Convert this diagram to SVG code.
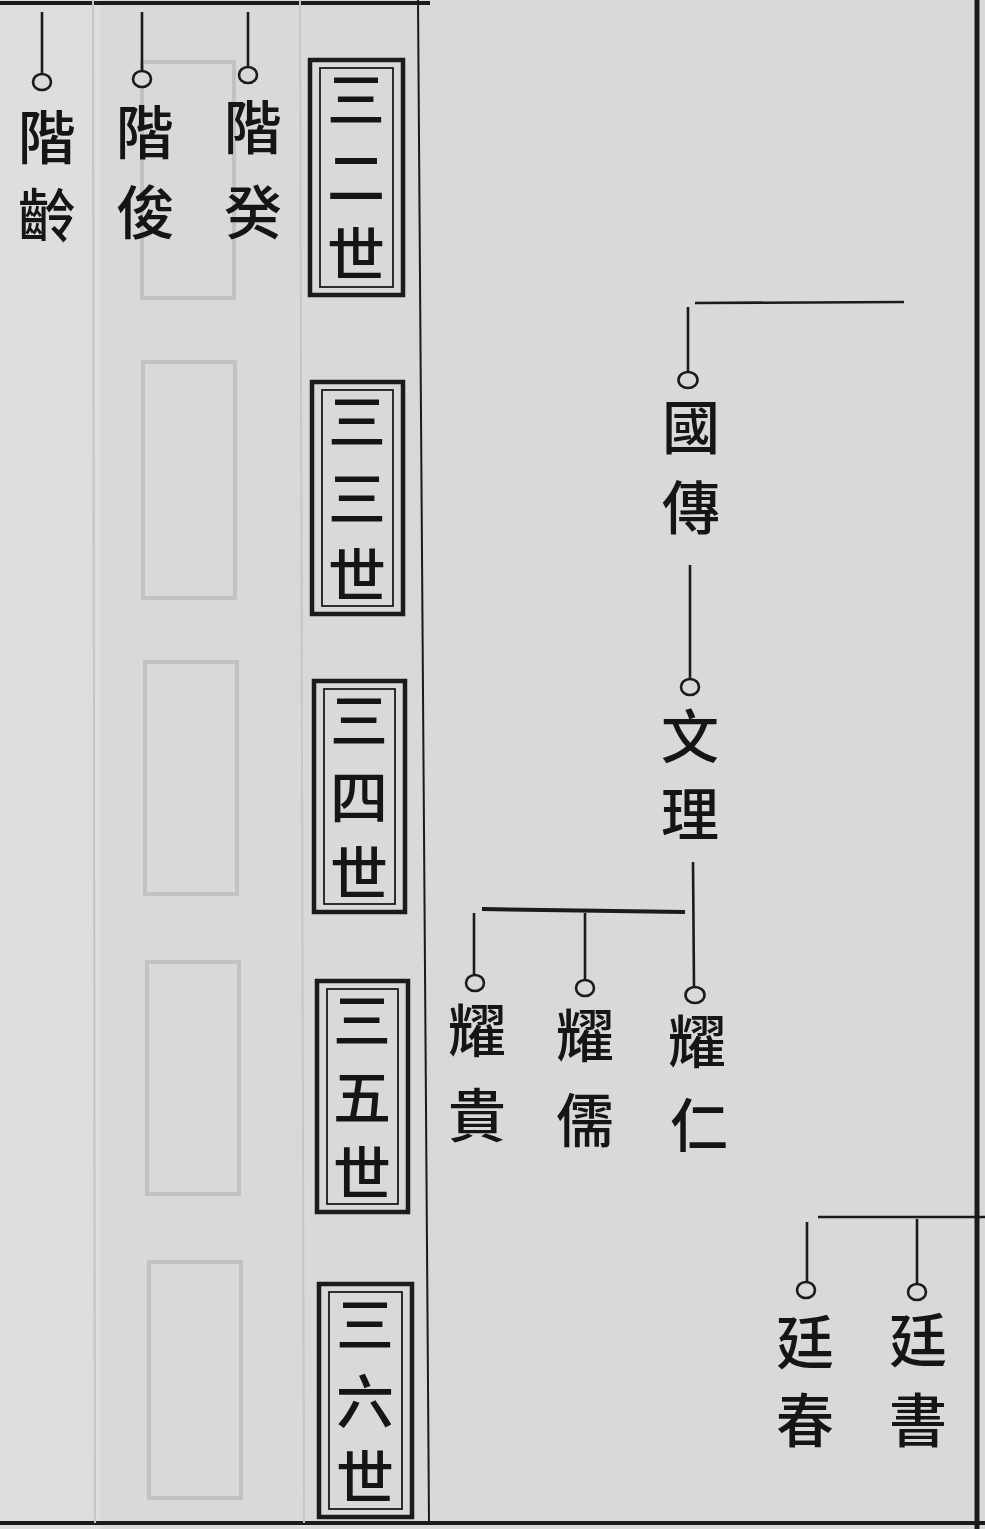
<svg xmlns="http://www.w3.org/2000/svg" width="985" height="1529" viewBox="0 0 985 1529">
<defs>
<style>
.ln{stroke:#1b1b1b;stroke-width:2.6;fill:none;stroke-linecap:butt}
.ring{stroke:#1b1b1b;stroke-width:2.6;fill:#d9d9d9}
.nm{font-family:"Noto Sans CJK TC","Noto Sans CJK SC",serif;font-size:58px;font-weight:500;fill:#151515;text-anchor:middle}
.gen{font-family:"Noto Sans CJK TC","Noto Sans CJK SC",serif;font-size:58px;font-weight:500;fill:#151515;text-anchor:middle}
.outer{stroke:#1b1b1b;stroke-width:4.5;fill:none}
.inner{stroke:#1b1b1b;stroke-width:1.8;fill:none}
.ghost{stroke:#c2c2c2;stroke-width:4;fill:none}
.ghostl{stroke:#c6c6c6;stroke-width:2;fill:none}
</style>
</defs>
<rect x="0" y="0" width="985" height="1529" fill="#d9d9d9"/>
<rect x="0" y="0" width="100" height="1529" fill="#dedede"/>

<g id="frame">
<line x1="0" y1="3" x2="430" y2="3" stroke="#1b1b1b" stroke-width="4"/>
<line x1="977" y1="0" x2="977" y2="1529" stroke="#1b1b1b" stroke-width="5"/>
<line x1="0" y1="1523" x2="985" y2="1523" stroke="#1b1b1b" stroke-width="4"/>
<line x1="418" y1="0" x2="429" y2="1523" stroke="#1b1b1b" stroke-width="2"/>
<line x1="93" y1="0" x2="95" y2="1523" class="ghostl"/>
<line x1="300" y1="0" x2="304" y2="1523" class="ghostl"/>
</g>

<g id="show-through">
<rect x="142" y="62" width="92" height="236" class="ghost"/>
<rect x="143" y="362" width="92" height="236" class="ghost"/>
<rect x="145" y="662" width="92" height="232" class="ghost"/>
<rect x="147" y="962" width="92" height="232" class="ghost"/>
<rect x="149" y="1262" width="92" height="236" class="ghost"/>
</g>

<g id="gen32">
<rect x="310" y="60" width="93" height="235" class="outer"/>
<rect x="320" y="68" width="73" height="219" class="inner"/>
<text class="gen"><tspan x="356" y="121">三</tspan><tspan x="356" y="199">二</tspan><tspan x="356" y="276">世</tspan></text>
</g>
<g id="gen33">
<rect x="312" y="382" width="91" height="232" class="outer"/>
<rect x="322" y="390" width="71" height="216" class="inner"/>
<text class="gen"><tspan x="357" y="443">三</tspan><tspan x="357" y="520">三</tspan><tspan x="357" y="597">世</tspan></text>
</g>
<g id="gen34">
<rect x="314" y="681" width="91" height="231" class="outer"/>
<rect x="324" y="689" width="71" height="215" class="inner"/>
<text class="gen"><tspan x="359" y="742">三</tspan><tspan x="359" y="819">四</tspan><tspan x="359" y="895">世</tspan></text>
</g>
<g id="gen35">
<rect x="317" y="981" width="91" height="231" class="outer"/>
<rect x="327" y="989" width="71" height="215" class="inner"/>
<text class="gen"><tspan x="362" y="1042">三</tspan><tspan x="362" y="1119">五</tspan><tspan x="362" y="1195">世</tspan></text>
</g>
<g id="gen36">
<rect x="319" y="1284" width="93" height="233" class="outer"/>
<rect x="329" y="1292" width="73" height="217" class="inner"/>
<text class="gen"><tspan x="365" y="1346">三</tspan><tspan x="365" y="1423">六</tspan><tspan x="365" y="1499">世</tspan></text>
</g>

<g id="connectors">
<line x1="42" y1="12" x2="42" y2="74" class="ln"/>
<line x1="142" y1="12" x2="142" y2="71" class="ln"/>
<line x1="248" y1="12" x2="248" y2="67" class="ln"/>
<line x1="695" y1="303" x2="904" y2="302" class="ln" stroke-width="2"/>
<line x1="688" y1="307" x2="688" y2="372" class="ln"/>
<line x1="690" y1="565" x2="690" y2="679" class="ln"/>
<line x1="693" y1="862" x2="694" y2="987" class="ln"/>
<path d="M482,909 L685,912" stroke="#1b1b1b" stroke-width="4" fill="none"/>
<line x1="474" y1="913" x2="474" y2="975" class="ln"/>
<line x1="585" y1="913" x2="585" y2="980" class="ln"/>
<line x1="818" y1="1217" x2="985" y2="1217" class="ln"/>
<line x1="807" y1="1222" x2="807" y2="1282" class="ln"/>
<line x1="917" y1="1219" x2="917" y2="1284" class="ln"/>
</g>

<g id="n-jieling">
<ellipse cx="42" cy="82" rx="9" ry="8" class="ring"/>
<text class="nm"><tspan x="47" y="159">階</tspan><tspan x="47" y="237">齡</tspan></text>
</g>
<g id="n-jiejun">
<ellipse cx="142" cy="79" rx="9" ry="8" class="ring"/>
<text class="nm"><tspan x="145" y="154">階</tspan><tspan x="145" y="234">俊</tspan></text>
</g>
<g id="n-jiegui">
<ellipse cx="248" cy="75" rx="9" ry="8" class="ring"/>
<text class="nm"><tspan x="253" y="149">階</tspan><tspan x="253" y="234">癸</tspan></text>
</g>
<g id="n-guochuan">
<ellipse cx="688" cy="380" rx="9.5" ry="8" class="ring"/>
<text class="nm"><tspan x="691" y="449">國</tspan><tspan x="691" y="529">傳</tspan></text>
</g>
<g id="n-wenli">
<ellipse cx="690" cy="687" rx="9" ry="8" class="ring"/>
<text class="nm"><tspan x="690" y="758">文</tspan><tspan x="690" y="836">理</tspan></text>
</g>
<g id="n-yaoren">
<ellipse cx="695" cy="995" rx="9.5" ry="8" class="ring"/>
<text class="nm"><tspan x="697" y="1063">耀</tspan><tspan x="699" y="1147">仁</tspan></text>
</g>
<g id="n-yaoru">
<ellipse cx="585" cy="988" rx="9" ry="8" class="ring"/>
<text class="nm"><tspan x="585" y="1057">耀</tspan><tspan x="585" y="1142">儒</tspan></text>
</g>
<g id="n-yaogui">
<ellipse cx="475" cy="983" rx="9" ry="8" class="ring"/>
<text class="nm"><tspan x="477" y="1052">耀</tspan><tspan x="477" y="1137">貴</tspan></text>
</g>
<g id="n-tingchun">
<ellipse cx="806" cy="1290" rx="9" ry="8" class="ring"/>
<text class="nm"><tspan x="805" y="1364">廷</tspan><tspan x="805" y="1442">春</tspan></text>
</g>
<g id="n-tingshu">
<ellipse cx="917" cy="1292" rx="9" ry="8" class="ring"/>
<text class="nm"><tspan x="918" y="1362">廷</tspan><tspan x="918" y="1442">書</tspan></text>
</g>
</svg>
